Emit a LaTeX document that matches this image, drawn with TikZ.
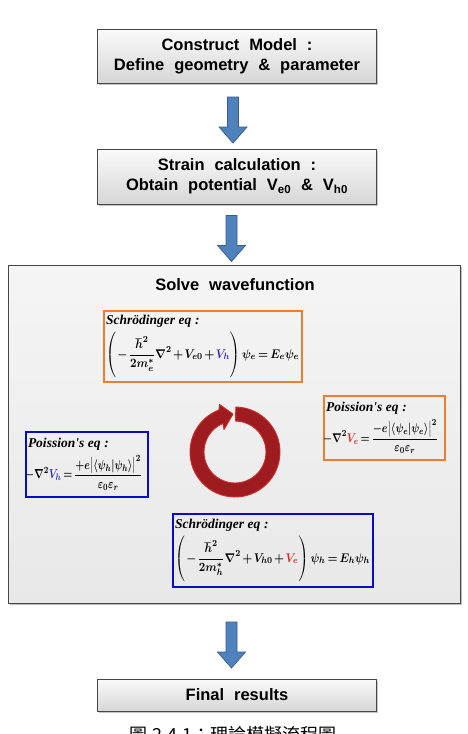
\documentclass[tikz,border=0pt]{standalone}
\usepackage{fontspec}
\setmainfont{Liberation Sans}
\newfontfamily\eqserif{Liberation Serif}
\newfontfamily\cjk{Noto Sans CJK TC}
\usepackage{amsmath,bm,graphicx}
\usetikzlibrary{shadows,calc}
\definecolor{orangeC}{RGB}{237,125,49}
\definecolor{blueC}{RGB}{10,10,205}
\definecolor{eqblue}{RGB}{50,50,190}
\definecolor{eqred}{RGB}{220,40,40}
\definecolor{ringfill}{RGB}{158,28,32}
\definecolor{ringdraw}{RGB}{205,45,45}
\definecolor{arrowblue}{RGB}{79,129,189}
\definecolor{arrowdraw}{RGB}{56,93,138}
\definecolor{boxdraw}{RGB}{70,70,70}
\newcommand\widesp{\spaceskip=0.6em plus 0.1em\relax}
\newcommand\compactmath{\medmuskip=2mu\thickmuskip=3mu\relax}
\newcommand\eqfit[3]{\resizebox*{#1pt}{#2pt}{\compactmath\boldmath$\displaystyle #3$}}
\newcommand\tallpar{\vphantom{\rule[-17pt]{0pt}{40pt}}}
\tikzset{
  x=1pt,y=1pt,
  stepbox/.style={draw=boxdraw, line width=1pt, top color=gray!4, bottom color=gray!32,
    drop shadow={shadow xshift=1.5pt, shadow yshift=-1.5pt, opacity=0.45},
    minimum width=279, align=center, inner sep=0pt,
    font=\bfseries\fontsize{16.5}{20}\selectfont},
  bigbox/.style={draw=boxdraw, line width=1pt, top color=gray!8, bottom color=gray!18,
    drop shadow={shadow xshift=1.5pt, shadow yshift=-1.5pt, opacity=0.5},
    minimum width=452, minimum height=338, inner sep=0pt},
  blockarr/.style={draw=arrowdraw, fill=arrowblue, line width=0.7pt, line join=miter},
  eqbox/.style={draw=#1, line width=1.8pt, align=left, inner sep=2pt,
    font=\fontsize{11}{13}\selectfont},
  ring/.style={fill=ringfill, draw=ringdraw, line width=0.9pt, line join=round},
  titletext/.style={font=\bfseries\fontsize{16.5}{20}\selectfont}
}
\newcommand\eqlabel[1]{{\eqserif\itshape\bfseries\fontsize{13.5}{15}\selectfont #1}}
\newcommand\flowarrow[3]{%
  \coordinate (#3) at ($(#1.south)!0.5!(#2.north)+(-4,-4)$);
  \draw[blockarr, shift={(#3)}] (-5.5,23) -- (5.5,23) -- (5.5,-7) -- (14,-7) -- (0,-23)
     -- (-14,-7) -- (-5.5,-7) -- cycle;}
\begin{document}
\begin{tikzpicture}
\useasboundingbox (0,0) rectangle (467,-734);
\fill[white] (0,0) rectangle (467,-734);

% step boxes
\node[stepbox, minimum height=54] (b1) at (237,-56) {\widesp Construct Model :\\\widesp Define geometry \& parameter};
\node[stepbox, minimum height=55] (b2) at (237,-176.5) {\widesp Strain calculation :\\\widesp Obtain potential V\textsubscript{e0} \& V\textsubscript{h0}};
\node[bigbox] (big) at (234,-434) {};
\node[stepbox, minimum height=32] (b4) at (237,-695) {\widesp Final results};

% block arrows
\flowarrow{b1}{b2}{a1}
\flowarrow{b2}{big}{a2}
\flowarrow{big}{b4}{a3}

% title
\node[titletext] (solve) at (235,-285) {\widesp Solve wavefunction};

% equation boxes
\node[eqbox=orangeC, text width=194, minimum height=71] (sa) at (203,-346.5) {%
\eqlabel{Schr\"odinger eq :}\\[3pt]
\eqfit{193}{46}{\left(\tallpar-\frac{\hbar^2}{2m_e^*}\nabla^2+V_{e0}+{\color{eqblue}V_h}\right)\psi_e = E_e\psi_e}};

\node[eqbox=orangeC, text width=117, minimum height=64] (pe) at (384.5,-428) {%
\eqlabel{Poission's eq :}\\[4pt]
\hspace*{-3pt}\eqfit{115}{34}{-\nabla^2{\color{eqred}V_e}=\frac{-e\bigl|\langle\psi_e|\psi_e\rangle\bigr|^2}{\varepsilon_0\varepsilon_r}}};

\node[eqbox=blueC, text width=118, minimum height=65] (ph) at (87,-464.5) {%
\eqlabel{Poission's eq :}\\[4pt]
\hspace*{-3pt}\eqfit{117}{35}{-\nabla^2{\color{eqblue}V_h}=\frac{+e\bigl|\langle\psi_h|\psi_h\rangle\bigr|^2}{\varepsilon_0\varepsilon_r}}};

\node[eqbox=blueC, text width=196, minimum height=73] (sh) at (273,-550.5) {%
\eqlabel{Schr\"odinger eq :}\\[3pt]
\eqfit{195}{46}{\left(\tallpar-\frac{\hbar^2}{2m_h^*}\nabla^2+V_{h0}+{\color{eqred}V_e}\right)\psi_h = E_h\psi_h}};

% circular arrow
\coordinate (rc) at (235,-452);
\draw[ring] ($(rc)+(89:45)$) arc[start angle=89, end angle=-249, radius=45]
  -- ($(rc)+(108:50)$) -- ($(rc)+(93:38)$) -- ($(rc)+(116:25)$) -- ($(rc)+(113:31)$)
  arc[start angle=113, end angle=449, radius=31] -- cycle;

% caption
\node[font=\cjk\fontsize{18}{20}\selectfont, anchor=north, inner sep=0pt] (cap) at (233,-726) {圖 2.4.1：理論模擬流程圖};
\end{tikzpicture}
\end{document}
